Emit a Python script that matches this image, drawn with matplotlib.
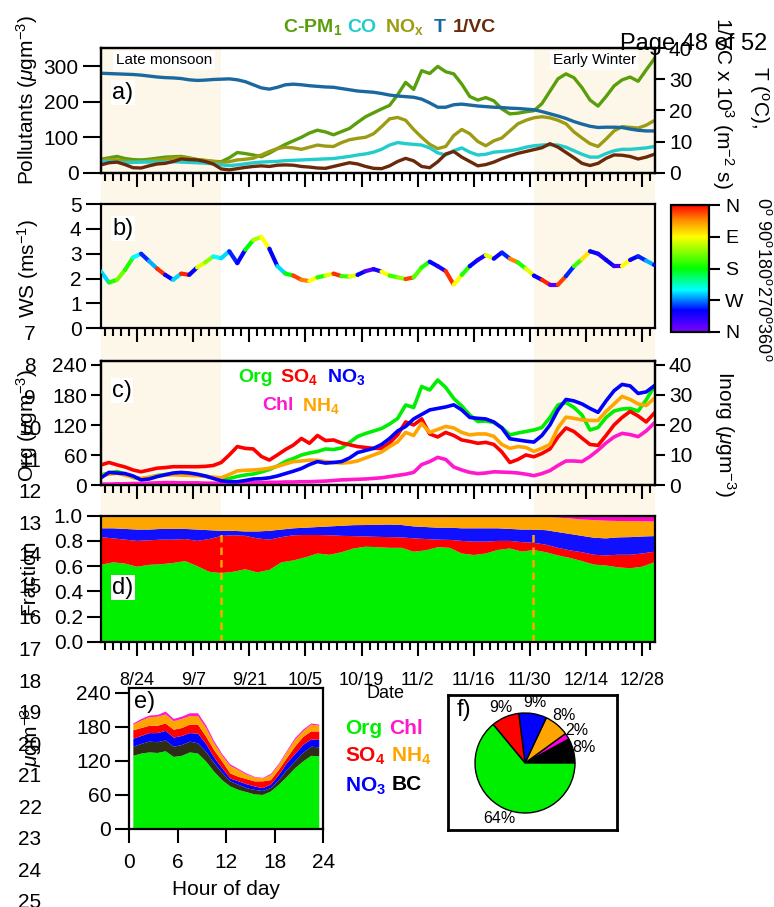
import numpy as np
import pandas as pd
import matplotlib
matplotlib.use("Agg")
import matplotlib.pyplot as plt
from matplotlib.colors import LinearSegmentedColormap, Normalize
from matplotlib.cm import ScalarMappable
from matplotlib.collections import LineCollection
import matplotlib.dates as mdates

plt.rcParams['font.family'] = 'Liberation Sans'
plt.rcParams['mathtext.fontset'] = 'custom'
plt.rcParams['mathtext.rm'] = 'Liberation Sans'
plt.rcParams['mathtext.it'] = 'Liberation Sans:italic'
plt.rcParams['mathtext.bf'] = 'Liberation Sans:bold'

# ---- time series, one value every 2 days (15 Aug - 31 Dec) ----
dates = pd.date_range('2017-08-15', '2017-12-31', freq='2D')

cpm1 = [38, 42, 46, 40, 37, 36, 38, 41, 44, 45,
        46, 42, 37, 34, 32, 31, 42, 57, 54, 50,
        45, 55, 68, 80, 90, 100, 112, 120, 115, 107,
        116, 125, 142, 158, 169, 180, 190, 220, 255, 235,
        288, 280, 300, 285, 279, 250, 215, 205, 212, 203,
        180, 166, 168, 172, 175, 195, 230, 265, 279, 268,
        240, 205, 188, 215, 245, 262, 270, 258, 290, 321]
nox = [36, 38, 36, 33, 31, 31, 33, 36, 38, 41,
       44, 40, 37, 35, 32, 29, 31, 36, 38, 41,
       50, 60, 68, 72, 70, 66, 72, 78, 75, 74,
       85, 93, 97, 100, 110, 130, 152, 156, 148, 122,
       100, 80, 68, 74, 105, 122, 110, 88, 76, 90,
       98, 118, 138, 148, 155, 158, 155, 148, 138, 115,
       98, 82, 74, 95, 118, 130, 128, 126, 134, 147]
co = [31, 32, 30, 28, 29, 30, 30, 29, 30, 31,
      30, 29, 28, 27, 25, 22, 20, 22, 25, 28,
      30, 31, 32, 34, 35, 36, 37, 38, 39, 40,
      43, 46, 50, 53, 58, 66, 78, 85, 82, 80,
      78, 70, 56, 50, 62, 70, 58, 50, 52, 58,
      60, 62, 66, 72, 76, 78, 79, 78, 72, 62,
      52, 44, 44, 54, 62, 66, 66, 68, 70, 74]
temp = [31.9, 31.8, 31.7, 31.6, 31.5, 31.3, 31.0, 30.7, 30.5, 30.4,
        30.2, 29.8, 29.6, 29.7, 29.9, 30.0, 30.1, 29.8, 29.2, 28.2,
        27.2, 26.8, 27.4, 28.2, 28.4, 28.2, 27.9, 27.7, 27.5, 27.4,
        27.0, 26.6, 26.2, 26.0, 25.8, 25.4, 24.9, 24.6, 24.4, 24.2,
        23.6, 22.4, 21.0, 21.0, 21.8, 22.0, 21.7, 21.4, 21.2, 21.0,
        20.9, 20.7, 20.6, 20.4, 20.2, 19.6, 18.9, 18.2, 17.4, 16.4,
        15.6, 14.9, 14.5, 14.6, 14.6, 14.5, 14.0, 13.6, 13.4, 13.4]
inv_vc = [2.5, 3.2, 3.4, 2.6, 1.6, 1.5, 2.2, 2.8, 3.0, 3.6,
          4.4, 4.2, 4.1, 3.6, 2.8, 1.2, 0.9, 1.3, 1.7, 2.0,
          2.2, 2.0, 2.4, 2.5, 2.4, 2.0, 1.8, 1.5, 1.4, 2.0,
          2.6, 3.2, 2.8, 2.0, 1.4, 1.3, 2.2, 3.6, 4.6, 3.8,
          2.0, 1.6, 3.5, 6.0, 6.8, 5.0, 3.6, 2.2, 2.6, 3.4,
          4.5, 5.4, 6.2, 6.8, 7.4, 8.0, 9.3, 8.2, 6.5, 4.8,
          3.0, 2.3, 3.0, 4.6, 5.7, 5.6, 5.2, 4.4, 5.0, 5.9]
ws = [2.28, 1.84, 1.95, 2.35, 2.85, 3.0, 2.7, 2.4, 2.15, 1.95,
      2.2, 2.15, 2.45, 2.65, 2.89, 2.82, 3.1, 2.62, 3.16, 3.55,
      3.68, 3.2, 2.5, 2.2, 2.12, 1.95, 1.9, 2.05, 2.12, 2.2,
      2.1, 2.08, 2.15, 2.3, 2.38, 2.28, 2.12, 2.05, 1.98, 2.05,
      2.45, 2.68, 2.5, 2.3, 1.75, 2.15, 2.5, 2.75, 2.95, 2.8,
      3.05, 2.8, 2.65, 2.4, 2.12, 1.95, 1.75, 1.75, 2.1, 2.5,
      2.78, 3.1, 3.0, 2.75, 2.5, 2.5, 2.75, 2.9, 2.72, 2.55]
wd = [250, 170, 140, 170, 240, 290, 260, 15, 300, 250,
      10, 300, 100, 130, 240, 250, 290, 300, 180, 120,
      90, 300, 250, 180, 20, 40, 90, 170, 100, 15,
      160, 100, 300, 340, 310, 90, 160, 130, 20, 150,
      170, 300, 310, 15, 90, 170, 300, 310, 100, 300,
      290, 40, 170, 100, 300, 10, 340, 20, 290, 160,
      80, 300, 310, 300, 330, 90, 300, 290, 260, 300]
org = [20, 24, 27, 22, 15, 12, 15, 19, 21, 22,
       23, 22, 20, 18, 15, 12, 13, 17, 20, 22,
       26, 31, 38, 47, 53, 60, 64, 67, 72, 71,
       74, 85, 97, 103, 108, 113, 122, 133, 160, 155,
       197, 190, 210, 195, 173, 158, 140, 127, 128, 125,
       115, 100, 104, 107, 110, 115, 135, 160, 165, 155,
       140, 110, 115, 135, 148, 152, 153, 148, 170, 197]
so4 = [6.7, 7.5, 6.7, 6.0, 5.0, 4.4, 5.0, 5.6, 5.8, 6.1,
       6.1, 6.1, 6.1, 6.2, 6.5, 7.5, 10.0, 12.8, 12.2, 12.0,
       9.5, 8.3, 10.0, 11.8, 13.3, 15.5, 13.9, 16.5, 14.8, 15.0,
       14.0, 13.4, 12.8, 12.5, 12.2, 12.2, 14.0, 16.7, 21.0, 20.0,
       22.0, 17.0, 16.0, 17.5, 16.5, 15.0, 14.5, 13.9, 14.2, 13.5,
       11.0, 7.5, 8.5, 10.0, 9.4, 10.5, 12.0, 16.0, 19.0, 17.8,
       15.6, 13.5, 13.2, 16.5, 20.0, 22.5, 24.5, 23.0, 21.0, 23.9]
no3 = [2.4, 4.2, 4.0, 3.8, 3.0, 1.7, 2.0, 2.8, 3.4, 4.0,
       4.2, 4.0, 3.6, 3.0, 2.2, 1.4, 1.1, 1.1, 1.5, 2.0,
       2.1, 2.4, 3.0, 3.8, 4.6, 5.5, 6.8, 7.8, 7.3, 7.5,
       7.8, 9.0, 10.8, 11.5, 12.2, 13.5, 15.5, 18.0, 19.5, 22.0,
       23.5, 25.0, 25.5, 26.0, 26.7, 25.0, 22.5, 22.2, 22.0, 21.0,
       19.0, 15.4, 15.0, 14.6, 14.3, 16.5, 20.0, 25.0, 28.5, 28.0,
       27.0, 25.5, 24.2, 28.0, 31.4, 33.5, 33.0, 30.5, 31.0, 33.0]
nh4 = [3.1, 3.6, 3.9, 3.3, 2.6, 2.2, 2.6, 3.0, 3.3, 3.4,
       3.3, 3.2, 3.1, 2.9, 2.6, 2.4, 3.5, 4.7, 4.9, 5.0,
       5.2, 5.6, 6.2, 7.0, 7.8, 8.0, 8.3, 8.2, 7.8, 7.5,
       7.3, 7.5, 8.0, 9.0, 10.0, 11.0, 12.8, 14.4, 17.5, 16.5,
       20.5, 17.5, 18.5, 19.5, 19.0, 17.5, 16.7, 17.0, 17.0, 16.2,
       13.5, 12.2, 12.8, 12.5, 11.2, 12.2, 13.5, 19.0, 22.6, 22.2,
       21.7, 21.5, 21.5, 24.5, 27.0, 29.5, 28.5, 27.0, 26.5, 28.8]
chl = [0.3, 0.3, 0.4, 0.4, 0.5, 0.5, 0.6, 0.7, 0.8, 0.8,
       0.7, 0.7, 0.7, 0.6, 0.6, 0.6, 0.6, 0.6, 0.7, 0.8,
       0.8, 0.9, 0.9, 1.0, 1.0, 1.1, 1.1, 1.2, 1.3, 1.5,
       1.7, 1.8, 1.9, 2.0, 2.2, 2.4, 2.8, 3.2, 3.6, 4.2,
       6.8, 7.8, 9.2, 8.5, 6.0, 5.0, 4.2, 3.8, 4.0, 4.4,
       4.3, 4.2, 4.0, 3.6, 3.1, 3.8, 4.8, 6.5, 8.0, 8.0,
       7.8, 9.5, 11.6, 14.0, 16.0, 17.2, 16.8, 16.1, 18.0, 20.6]

# ---- mass fractions, one value every 3 days ----
frac_dates = pd.date_range('2017-08-15', '2017-12-31', freq='3D')
org_f = [.61, .63, .62, .595, .61, .615, .625, .64, .60, .555,
         .545, .555, .575, .55, .57, .63, .645, .67, .70, .69,
         .71, .74, .754, .75, .745, .745, .714, .725, .75, .745,
         .70, .688, .70, .728, .74, .715, .728, .71, .685, .665,
         .64, .612, .605, .59, .583, .595, .63]
so4_f = [.22, .19, .19, .205, .195, .195, .185, .175, .20, .26,
         .294, .29, .265, .27, .24, .20, .20, .177, .147, .155,
         .13, .098, .081, .082, .085, .083, .106, .09, .06, .063,
         .10, .106, .094, .072, .06, .075, .057, .06, .06, .06,
         .07, .078, .08, .10, .107, .105, .084]
no3_f = [.07, .08, .085, .09, .085, .085, .085, .08, .09, .07,
         .041, .035, .035, .055, .07, .06, .055, .058, .063, .07,
         .08, .087, .091, .096, .10, .098, .095, .095, .095, .097,
         .10, .106, .106, .10, .095, .10, .105, .115, .125, .13,
         .13, .135, .135, .138, .14, .135, .124]
nh4_f = [.095, .095, .10, .105, .105, .10, .10, .10, .105, .11,
         .115, .115, .12, .12, .115, .105, .095, .09, .085, .08,
         .075, .07, .069, .066, .064, .067, .077, .08, .083, .085,
         .092, .093, .093, .093, .098, .103, .102, .105, .115, .123,
         .13, .14, .14, .13, .127, .121, .117]
chl_f = [.005, .005, .005, .005, .005, .005, .005, .005, .005, .005,
         .005, .005, .005, .005, .005, .005, .005, .005, .005, .005,
         .005, .005, .005, .006, .006, .007, .008, .01, .012, .01,
         .008, .007, .007, .007, .007, .007, .008, .01, .015, .022,
         .03, .035, .04, .042, .043, .044, .045]

# ---- diurnal cycle ----
hours = [0.5, 1.5, 2.5, 3.5, 4.5, 5.5, 6.5, 7.5, 8.5, 9.5, 10.5, 11.5,
         12.5, 13.5, 14.5, 15.5, 16.5, 17.5, 18.5, 19.5, 20.5, 21.5, 22.5, 23.5]
org_e = [129, 133, 135, 134, 137, 127, 129, 135, 133, 119, 101, 86,
         75, 69, 65, 61, 60, 66, 78, 92, 107, 119, 129, 128]
bc_e = [16, 17, 19, 19, 19, 18, 19, 19, 18, 17, 15, 13,
        9, 9, 7, 8, 7, 6, 8, 12, 12, 15, 16, 16]
no3_e = [14, 14, 15, 16, 17, 16, 16, 15, 17, 14, 10, 8,
         5, 6, 7, 6, 5, 6, 9, 12, 13, 14, 13, 13]
so4_e = [15, 14, 13, 13, 13, 14, 14, 15, 16, 13, 13, 12,
         9, 8, 9, 9, 12, 8, 9, 9, 13, 14, 14, 15]
nh4_e = [10, 13, 15, 16, 16, 15, 16, 15, 15, 15, 12, 10,
         13, 12, 8, 7, 5, 9, 9, 11, 12, 10, 12, 10]
chl_e = [2, 3, 3, 3, 5, 4, 4, 5, 5, 5, 4, 3,
         3, 2, 2, 1, 1, 2, 2, 2, 3, 3, 2, 2]

# ---- pie (BC, Chl, NH4, NO3, SO4, Org) ----
pie_vals = [8, 2, 8, 9, 9, 64]
pie_labels = ['8%', '2%', '8%', '9%', '9%', '64%']

tick_dates = pd.to_datetime(['2017-08-24', '2017-09-07', '2017-09-21', '2017-10-05',
                             '2017-10-19', '2017-11-02', '2017-11-16', '2017-11-30',
                             '2017-12-14', '2017-12-28'])
tick_labels = ['8/24', '9/7', '9/21', '10/5', '10/19', '11/2', '11/16', '11/30',
               '12/14', '12/28']
minor_dates = pd.date_range('2017-08-16', '2017-12-31', freq='2D')
xlim = (pd.Timestamp('2017-08-15'), pd.Timestamp('2017-12-31 05:00'))
monsoon = (pd.Timestamp('2017-08-15'), pd.Timestamp('2017-09-14'))
winter = (pd.Timestamp('2017-12-01'), pd.Timestamp('2017-12-31 05:00'))

c_pm = '#5a9e0c'
c_co = '#22cccc'
c_nox = '#9c9c14'
c_t = '#1a68a0'
c_vc = '#6a2a0a'
c_org = '#00ee00'
c_so4 = '#ff0000'
c_no3 = '#0000ff'
c_nh4 = '#ffa500'
c_chl = '#ff18cc'
c_bc = '#2e2e16'
shade = '#fdf7e9'

W, H = 774, 907


def box(l, t, r, b):
    return [l / W, 1 - b / H, (r - l) / W, (b - t) / H]


fig = plt.figure(figsize=(W / 100, H / 100), dpi=100)


def ftext(x, y, s, **kw):
    fig.text(x / W, 1 - y / H, s, **kw)


def date_axis(ax, labels=False):
    ax.set_xlim(xlim)
    ax.set_xticks(tick_dates)
    ax.set_xticks(minor_dates, minor=True)
    ax.tick_params(axis='x', which='major', length=10, width=1.5, direction='out')
    ax.tick_params(axis='x', which='minor', length=5.5, width=1.5, direction='out')
    if labels:
        ax.set_xticklabels(tick_labels, fontsize=13)
        ax.tick_params(axis='x', pad=12)
    else:
        ax.set_xticklabels([])


def style(ax, ylen=7):
    for s in ax.spines.values():
        s.set_linewidth(1.6)
    ax.tick_params(axis='y', length=ylen, width=1.5, labelsize=15, pad=3)


# background season shading (spans panels a-c and the gaps)
ax_bg = fig.add_axes(box(101, 48, 655, 515.7))
ax_bg.set_xlim(xlim)
ax_bg.axvspan(*monsoon, color=shade, lw=0)
ax_bg.axvspan(*winter, color=shade, lw=0)
ax_bg.axis('off')

# ---- a) ----
ax_a = fig.add_axes(box(101, 48, 655, 172.7), facecolor='none')
ax_a.plot(dates, cpm1, color=c_pm, lw=2.4)
ax_a.plot(dates, nox, color=c_nox, lw=2.4)
ax_a.plot(dates, co, color=c_co, lw=2.4)
ax_a.set_ylim(0, 352)
ax_a.set_yticks([0, 100, 200, 300])
date_axis(ax_a)
style(ax_a, ylen=13)
ax_a2 = ax_a.twinx()
ax_a2.plot(dates, temp, color=c_t, lw=2.4)
ax_a2.plot(dates, inv_vc, color=c_vc, lw=2.4)
ax_a2.set_ylim(0, 40)
ax_a2.set_yticks([0, 10, 20, 30, 40])
style(ax_a2)
ax_a2.set_xlim(xlim)
ax_a.text(0.027, 0.9, 'Late monsoon', transform=ax_a.transAxes, fontsize=11,
          va='center', bbox=dict(facecolor='white', edgecolor='none', pad=2))
ax_a.text(0.815, 0.9, 'Early Winter', transform=ax_a.transAxes, fontsize=11,
          va='center', bbox=dict(facecolor='white', edgecolor='none', pad=2))
ax_a.text(0.02, 0.64, 'a)', transform=ax_a.transAxes, fontsize=17,
          va='center', bbox=dict(facecolor='white', edgecolor='none', pad=1))

# ---- b) ----
cmap = LinearSegmentedColormap.from_list(
    'wd', [(0, '#ff0000'), (0.12, '#ff8c00'), (0.25, '#ffff00'), (0.5, '#00ff00'),
           (0.67, '#00ffff'), (0.83, '#0000ff'), (1.0, '#8000ff')])
norm = Normalize(0, 360)
ax_b = fig.add_axes(box(101, 204, 655, 328.3), facecolor='none')
x_num = mdates.date2num(dates)
pts = np.column_stack([x_num, ws])
segs = np.stack([pts[:-1], pts[1:]], axis=1)
lc = LineCollection(segs, cmap=cmap, norm=norm, lw=3)
lc.set_array(np.array(wd[:-1]))
ax_b.add_collection(lc)
ax_b.scatter(dates, ws, c=wd, cmap=cmap, norm=norm, s=9, lw=0, zorder=3)
ax_b.set_ylim(0, 5)
ax_b.set_yticks([0, 1, 2, 3, 4, 5])
date_axis(ax_b)
style(ax_b, ylen=11)
ax_b.text(0.02, 0.8, 'b)', transform=ax_b.transAxes, fontsize=17,
          va='center', bbox=dict(facecolor='white', edgecolor='none', pad=1))

cax = fig.add_axes(box(671, 205, 709, 332))
cb = fig.colorbar(ScalarMappable(norm=norm, cmap=cmap), cax=cax)
cax.invert_yaxis()
cb.set_ticks([0, 90, 180, 270, 360])
cb.set_ticklabels(['N', 'E', 'S', 'W', 'N'])
cax.tick_params(labelsize=14, length=8, width=1.5)
cb.outline.set_linewidth(1.6)
ftext(763, 197, r'0$^\mathrm{o}$ 90$^\mathrm{o}$180$^\mathrm{o}$270$^\mathrm{o}$360$^\mathrm{o}$',
      rotation=270, ha='center', va='top', fontsize=13)

# ---- c) ----
ax_c = fig.add_axes(box(101, 360.7, 655, 485), facecolor='none')
ax_c.plot(dates, org, color=c_org, lw=2.6)
ax_c.set_ylim(0, 248.6)
ax_c.set_yticks([0, 60, 120, 180, 240])
date_axis(ax_c)
style(ax_c)
ax_c2 = ax_c.twinx()
ax_c2.plot(dates, chl, color=c_chl, lw=2.6)
ax_c2.plot(dates, so4, color=c_so4, lw=2.6)
ax_c2.plot(dates, nh4, color=c_nh4, lw=2.6)
ax_c2.plot(dates, no3, color=c_no3, lw=2.6)
ax_c2.set_ylim(0, 41.4)
ax_c2.set_yticks([0, 10, 20, 30, 40])
ax_c2.set_xlim(xlim)
style(ax_c2)
ax_c.text(0.02, 0.76, 'c)', transform=ax_c.transAxes, fontsize=17,
          va='center', bbox=dict(facecolor='white', edgecolor='none', pad=1))
ftext(238, 377, 'Org', color=c_org, fontsize=14, fontweight='bold', va='center')
ftext(280, 377, r'$\mathbf{SO_4}$', color=c_so4, fontsize=14, va='center')
ftext(327, 377, r'$\mathbf{NO_3}$', color=c_no3, fontsize=14, va='center')
ftext(262, 406, 'Chl', color=c_chl, fontsize=14, fontweight='bold', va='center')
ftext(302, 406, r'$\mathbf{NH_4}$', color=c_nh4, fontsize=14, va='center')

# ---- d) ----
ax_d = fig.add_axes(box(101, 515.7, 655, 641.7))
ax_d.stackplot(frac_dates, org_f, so4_f, no3_f, nh4_f, chl_f,
               colors=['#00f000', c_so4, '#1010ff', c_nh4, '#ff00cc'], lw=0)
ax_d.axvline(pd.Timestamp('2017-09-14'), color='#ffa500', ls=(0, (3, 2)), lw=1.8)
ax_d.axvline(pd.Timestamp('2017-11-30 20:00'), color='#ffa500', ls=(0, (3, 2)), lw=1.8)
ax_d.set_ylim(0, 1)
ax_d.set_yticks([0, 0.2, 0.4, 0.6, 0.8, 1.0])
ax_d.set_yticklabels(['0.0', '0.2', '0.4', '0.6', '0.8', '1.0'])
date_axis(ax_d, labels=True)
style(ax_d, ylen=10)
ax_d.text(0.02, 0.43, 'd)', transform=ax_d.transAxes, fontsize=17,
          va='center', bbox=dict(facecolor='white', edgecolor='none', pad=1))
ftext(386, 693, 'Date', fontsize=13, ha='center', va='center')

# ---- e) ----
ax_e = fig.add_axes(box(129.3, 688.3, 323.3, 829))
ax_e.stackplot(hours, org_e, bc_e, no3_e, so4_e, nh4_e, chl_e,
               colors=['#00ee00', c_bc, c_no3, c_so4, c_nh4, c_chl], lw=0)
ax_e.set_xlim(0, 24)
ax_e.set_ylim(0, 248)
ax_e.set_xticks([0, 6, 12, 18, 24])
ax_e.set_yticks([0, 60, 120, 180, 240])
style(ax_e)
ax_e.tick_params(axis='x', length=10, width=1.5, labelsize=15, pad=7)
ax_e.tick_params(axis='y', length=10)
ax_e.set_xlabel('Hour of day', fontsize=15, labelpad=6)
ax_e.text(0.025, 0.9, 'e)', transform=ax_e.transAxes, fontsize=17, va='center')
ftext(345, 729, 'Org', color=c_org, fontsize=15, fontweight='bold', va='center')
ftext(389, 729, 'Chl', color=c_chl, fontsize=15, fontweight='bold', va='center')
ftext(345, 756, r'$\mathbf{SO_4}$', color=c_so4, fontsize=15, va='center')
ftext(391, 756, r'$\mathbf{NH_4}$', color=c_nh4, fontsize=15, va='center')
ftext(345, 786, r'$\mathbf{NO_3}$', color=c_no3, fontsize=15, va='center')
ftext(392, 784, 'BC', color='black', fontsize=15, fontweight='bold', va='center')

# ---- f) ----
ax_fb = fig.add_axes(box(448, 695, 617, 830))
ax_fb.set_xticks([])
ax_fb.set_yticks([])
for s in ax_fb.spines.values():
    s.set_linewidth(2)
ax_fb.text(0.05, 0.89, 'f)', transform=ax_fb.transAxes, fontsize=17, va='center')
ax_f = fig.add_axes(box(465, 703, 585, 823))
wedges, texts = ax_f.pie(pie_vals, labels=pie_labels, startangle=0, counterclock=True,
                         colors=['black', '#ff00dd', '#ffa500', '#0000ff', '#ff0000', '#00ee00'],
                         labeldistance=1.22, textprops=dict(fontsize=11.5),
                         wedgeprops=dict(edgecolor='black', linewidth=1))
for t in texts:
    t.set_ha('center')
ax_f.set_xlim(-1.2, 1.2)
ax_f.set_ylim(-1.2, 1.2)

# ---- axis titles ----
ftext(27, 100, r'Pollutants ($\mu$gm$^{-3}$)', rotation=90, ha='center', va='center', fontsize=15)
ftext(723, 103, r'1/VC x 10$^3$ (m$^{-2}$ s)', rotation=270, ha='center', va='center', fontsize=15)
ftext(759, 97, r'T ($^\mathrm{o}$C),', rotation=270, ha='center', va='center', fontsize=15)
ftext(28, 268, r'WS (ms$^{-1}$)', rotation=90, ha='center', va='center', fontsize=15)
ftext(27, 425, r'Org ($\mu$gm$^{-3}$)', rotation=90, ha='center', va='center', fontsize=15)
ftext(725, 434, r'Inorg ($\mu$gm$^{-3}$)', rotation=270, ha='center', va='center', fontsize=15)
ftext(29, 577, 'Fraction', rotation=90, ha='center', va='center', fontsize=15)
ftext(31, 737, r'$\mu$gm$^{-3}$', rotation=90, ha='center', va='center', fontsize=15)

# top legend
ftext(283, 27, r'C-PM$_\mathbf{1}$', color=c_pm, fontsize=14, fontweight='bold', va='center')
ftext(347, 27, 'CO', color=c_co, fontsize=14, fontweight='bold', va='center')
ftext(385, 27, r'$\mathbf{NO_x}$', color=c_nox, fontsize=14, va='center')
ftext(434, 27, 'T', color=c_t, fontsize=14, fontweight='bold', va='center')
ftext(453, 27, '1/VC', color=c_vc, fontsize=14, fontweight='bold', va='center')

# manuscript page furniture
ftext(767, 44, 'Page 48 of 52', fontsize=17, ha='right', va='center')
line_numbers = list(range(7, 26))
for n in line_numbers:
    ftext(30, 335 + 31.55 * (n - 7), str(n), fontsize=15, ha='center', va='center')

fig.savefig('out.png', dpi=100)
